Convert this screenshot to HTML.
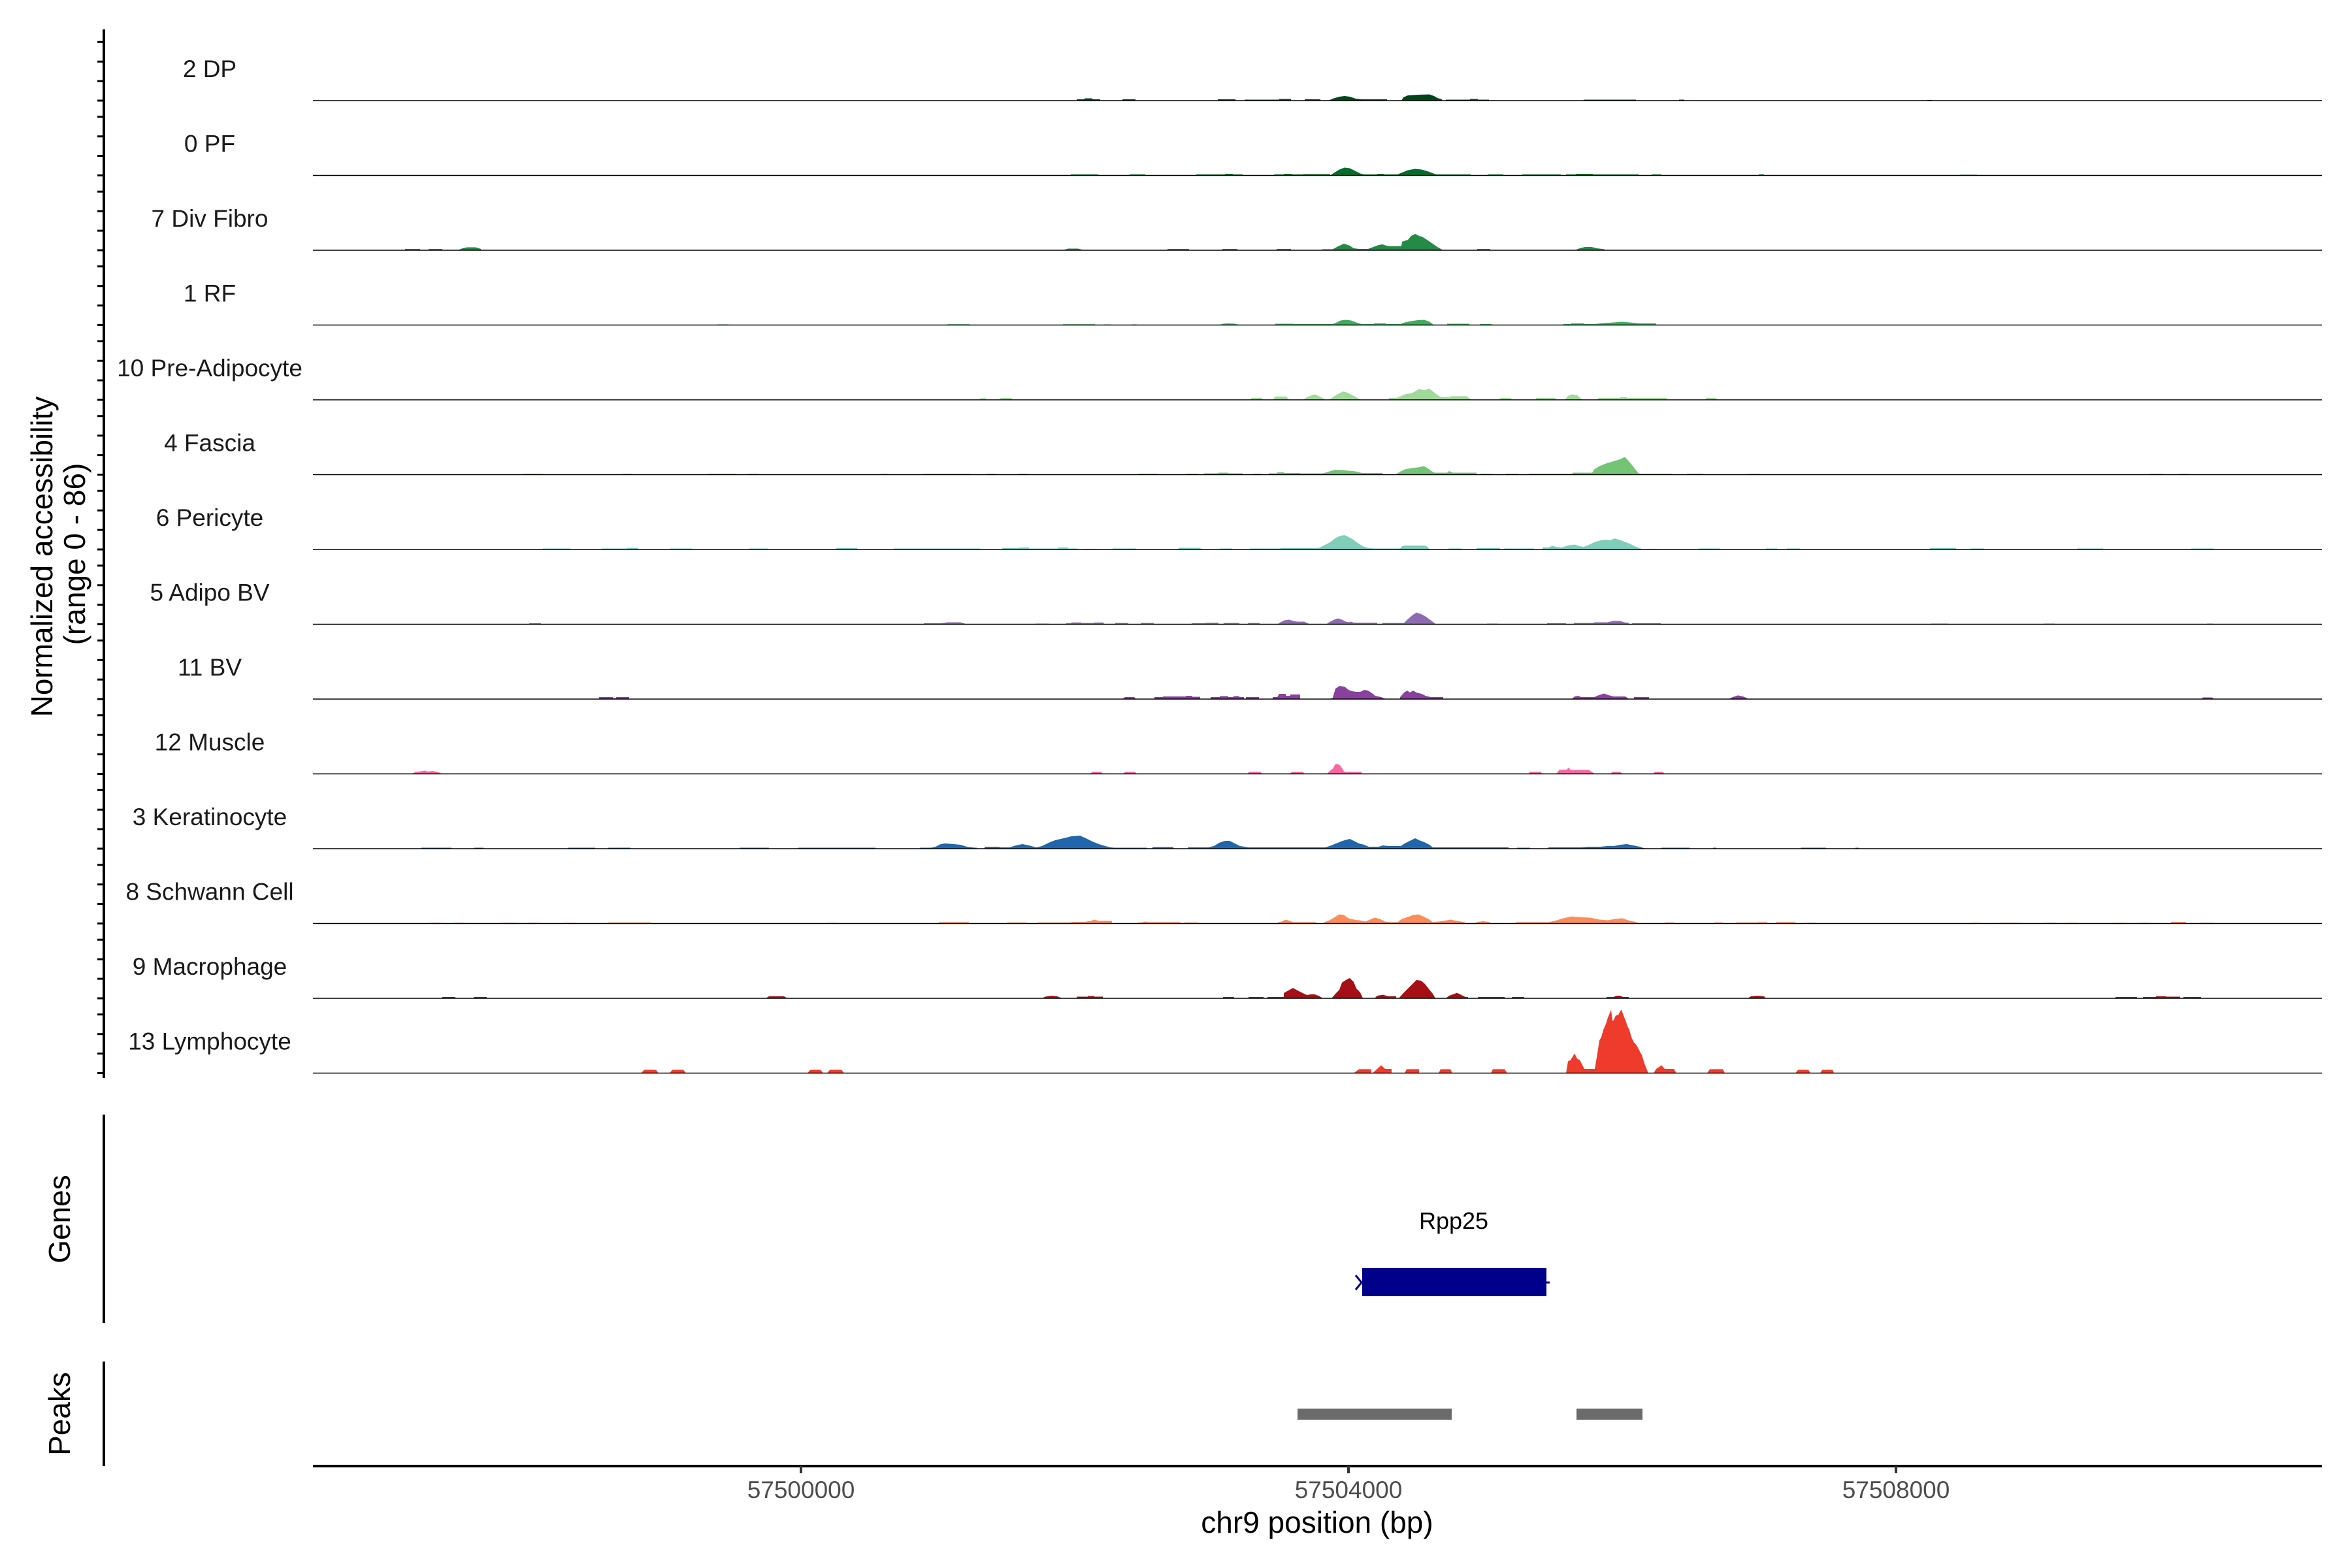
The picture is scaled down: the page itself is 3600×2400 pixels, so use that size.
<!DOCTYPE html>
<html><head><meta charset="utf-8"><style>
html,body{margin:0;padding:0;background:#fff;}
svg{display:block;}
text{font-family:"Liberation Sans",Arial,sans-serif;}
</style></head><body>
<svg xmlns="http://www.w3.org/2000/svg" width="3600" height="2400" viewBox="0 0 3600 2400">
<rect width="3600" height="2400" fill="#fff"/>

<!-- Y axis title -->
<text transform="translate(80,852) rotate(-90)" text-anchor="middle" font-size="46" fill="#000">Normalized accessibility</text>
<text transform="translate(130,848) rotate(-90)" text-anchor="middle" font-size="46" fill="#000">(range 0 - 86)</text>

<!-- main y axis -->
<line x1="159" y1="45" x2="159" y2="1650" stroke="#000" stroke-width="4"/>
<g stroke="#000" stroke-width="3">
<path d="M149 154H159M149 124.1H159M149 94.2H159M149 64.3H159
M149 268.5H159M149 238.6H159M149 208.7H159M149 178.8H159
M149 383H159M149 353.1H159M149 323.2H159M149 293.3H159
M149 497.5H159M149 467.6H159M149 437.7H159M149 407.8H159
M149 612H159M149 582.1H159M149 552.2H159M149 522.3H159
M149 726.5H159M149 696.6H159M149 666.7H159M149 636.8H159
M149 841H159M149 811.1H159M149 781.2H159M149 751.3H159
M149 955.5H159M149 925.6H159M149 895.7H159M149 865.8H159
M149 1070H159M149 1040.1H159M149 1010.2H159M149 980.3H159
M149 1184.5H159M149 1154.6H159M149 1124.7H159M149 1094.8H159
M149 1299H159M149 1269.1H159M149 1239.2H159M149 1209.3H159
M149 1413.5H159M149 1383.6H159M149 1353.7H159M149 1323.8H159
M149 1528H159M149 1498.1H159M149 1468.2H159M149 1438.3H159
M149 1642.5H159M149 1612.6H159M149 1582.7H159M149 1552.8H159"/>
</g>

<!-- track labels -->
<g font-size="37" fill="#1a1a1a" text-anchor="middle">
<text x="321" y="118">2 DP</text>
<text x="321" y="232.5">0 PF</text>
<text x="321" y="347">7 Div Fibro</text>
<text x="321" y="461.5">1 RF</text>
<text x="321" y="576">10 Pre-Adipocyte</text>
<text x="321" y="690.5">4 Fascia</text>
<text x="321" y="805">6 Pericyte</text>
<text x="321" y="919.5">5 Adipo BV</text>
<text x="321" y="1034">11 BV</text>
<text x="321" y="1148.5">12 Muscle</text>
<text x="321" y="1263">3 Keratinocyte</text>
<text x="321" y="1377.5">8 Schwann Cell</text>
<text x="321" y="1492">9 Macrophage</text>
<text x="321" y="1606.5">13 Lymphocyte</text>
</g>

<!-- Track 0: 2 DP -->
<g transform="translate(0,154)" fill="#00441B">
<path d="M1648 0V-2H1660V-3.5H1672V-2H1684V0Z M1718 0V-2H1738V0Z M1864 0V-2H1891V0Z M1905 0V-1.5H1958V-2.5H1976V0Z M1997 0V-2H2021V0Z
M2033 0L2040 -3L2050 -6L2058 -7L2066 -6L2075 -3L2085 -2H2123V0Z
M2145 0L2148 -5L2155 -8L2170 -9L2188 -9.5L2195 -7L2200 -4L2207 -2V0Z
M2213 0V-1.5H2250V-2.5H2262V-1.5H2279V0Z M2424 0V-1.5H2504V0Z M2570 0V-1.5H2578V0Z M2950 0V-1H2957V0Z"/>
</g>

<!-- Track 1: 0 PF -->
<g transform="translate(0,268.5)" fill="#006D2C">
<path d="M1639 0V-1.5H1681V0Z M1729 0V-1.5H1753V0Z M1831 0V-1.5H1875V-2.5H1887V-1.5H1902V0Z
M1950 0V-1.5H1965V-2.5H1978V-1.5H1995V-2H2036V0Z
M2036 0L2042 -4L2050 -9L2058 -12L2066 -11L2074 -7L2082 -3L2088 -1.5H2108V-2.5H2118V-1.5H2139L2145 -4L2155 -8L2166 -10L2176 -9L2186 -6L2194 -3L2199 -1.5H2251V0Z
M2277 0V-1.5H2301V0Z M2330 0V-1.5H2389V0Z M2397 0V-1.5H2412V-2.5H2438V-1.5H2508V0Z M2528 0V-1.5H2543V0Z M2692 0V-1.5H2700V0Z M3000 0V-1H3026V0Z"/>
</g>

<!-- Track 2: 7 Div Fibro -->
<g transform="translate(0,383)" fill="#238B45">
<path d="M620 0V-2H643V0Z M656 0V-2H677V0Z M701 0L708 -3L715 -4.5H728L736 -2V0Z
M1627 0L1635 -2.5H1650L1659 0Z M1787 0V-2H1820V0Z M1871 0V-2H1894V0Z M1954 0V-2H1976V0Z
M2024 0V-1.5H2040L2048 -6L2057 -10L2066 -7L2072 -3L2080 -2H2094L2102 -5L2110 -8L2116 -9L2122 -7L2127 -6H2145L2146 -13L2155 -16L2160 -22L2166 -25L2172 -22L2178 -20L2190 -12L2200 -5L2209 0Z
M2261 0V-2H2281V0Z M2410 0L2418 -3L2426 -5L2436 -5L2444 -3L2456 -1.5V0Z"/>
</g>

<!-- Track 3: 1 RF -->
<g transform="translate(0,497.5)" fill="#41AB5D">
<path d="M1098 0V-1H1115V0Z M1450 0V-1.3H1484V0Z M1627 0V-1.3H1676V0Z M1690 0V-1H1700V0Z M1733 0V-1H1740V0Z
M1866 0L1872 -2L1880 -2.5L1890 -2L1898 0Z
M1952 0V-2H1980V-1.5H2040L2046 -4L2052 -7L2060 -8L2068 -7L2076 -4L2084 -1.5H2103V-2.5H2121V-1.5H2143L2150 -4L2160 -6L2170 -7.5L2180 -8L2188 -5L2193 -1.5V0Z
M2215 0V-2H2249V0Z M2265 0V-1.5H2283V0Z
M2393 0V-1.5H2405V-2.5H2425V-1.5H2440L2455 -3L2470 -4L2482 -5L2495 -4L2510 -2.5H2535V0Z"/>
</g>

<!-- Track 4: 10 Pre-Adipocyte -->
<g transform="translate(0,612)" fill="#A1D99B">
<path d="M1500 0V-2.5H1509V0Z M1529 0L1532 -3H1548L1550 0Z M1913 0L1916 -3H1931L1934 0Z M1948 0L1952 -5H1969L1973 0Z
M1994 0L2000 -4L2008 -7L2012 -8.5L2018 -6L2024 -3L2029 0Z
M2034 0L2040 -4L2048 -9L2056 -13L2062 -11L2070 -7L2078 -3L2083 0Z
M2126 0V-3H2138L2145 -6L2152 -9L2160 -10L2166 -13L2173 -17L2177 -15L2182 -15L2187 -17.5L2192 -14L2198 -9L2204 -5L2208 -4H2220V-5.5H2245L2252 0Z
M2294 0L2297 -3H2312L2315 0Z M2351 0V-3H2381V0Z M2395 0L2400 -6L2407 -8.5L2414 -7L2422 0Z
M2446 0V-3H2480V-4H2490V-3H2551V0Z M2609 0L2612 -3H2626L2629 0Z"/>
</g>

<!-- Track 5: 4 Fascia -->
<g transform="translate(0,726.5)" fill="#74C476">
<path d="M801 0V-1.3H831V0Z M953 0V-1.3H967V0Z M1084 0V-1.3H1126V0Z M1144 0V-1.3H1161V0Z M1348 0V-1.3H1360V0Z M1413 0V-1.3H1485V0Z
M1511 0V-1.4H1525V0Z M1559 0V-1.4H1574V0Z M1742 0V-1.5H1773V0Z M1816 0V-1.5H1834V0Z M1843 0V-2H1865V-3H1880V-2H1902V0Z M1918 0V-1.5H1930V0Z
M1942 0V-2H1955V-3.5H1965V-2.5H1990V-2H2025L2035 -5L2043 -7.5L2055 -7L2065 -6L2075 -5L2085 -2.5H2116V0Z
M2136 0L2142 -4L2150 -8L2160 -10L2170 -11L2179 -13L2185 -10L2190 -6L2196 -3H2215L2218 -5.5L2224 -3H2260V0Z
M2266 0V-1.5H2283V0Z M2305 0V-1.5H2324V0Z
M2340 0V-1.5H2407V-3H2437L2440 -8L2448 -13L2458 -17L2468 -20L2478 -23L2487 -27L2492 -22L2500 -12L2508 -2L2510 -1.5H2559V0Z
M2582 0V-1.5H2607V0Z M2675 0V-1.3H2694V0Z M3291 0V-1.3H3311V0Z M3335 0V-1.3H3350V0Z"/>
</g>

<!-- Track 6: 6 Pericyte -->
<g transform="translate(0,841)" fill="#7FCDBB">
<path d="M831 0V-1.5H873V0Z M921 0V-1.5H960V-2.5H977V0Z M1026 0V-1.5H1059V0Z M1147 0V-1.5H1175V0Z M1280 0V-2H1312V0Z M1368 0V-1.5H1500V0Z
M1534 0V-2H1560V-3H1575V-1.5H1620V-3H1635V-1.5H1649V0Z M1659 0V-1H1680V0Z M1703 0V-1.5H1739V0Z M1801 0L1806 -2.5H1835L1842 0Z M1867 0V-1.5H1886V0Z
M1913 0V-1.5H1960V-2H2016L2020 -3L2028 -7L2036 -11L2045 -18L2052 -21L2058 -22L2064 -19L2070 -16L2078 -10L2086 -5L2095 -2L2104 -1.5H2143L2146 -5L2150 -6H2182L2189 0Z
M2217 0V-1.5H2237V0Z M2260 0V-2H2296V0Z M2302 0V-1.5H2348V0Z
M2361 0V-3H2370L2376 -5.5L2382 -4L2390 -3L2400 -6L2410 -7.5L2418 -5L2424 -4L2432 -7L2440 -11L2450 -14L2458 -15L2465 -14L2471 -17L2478 -15L2486 -12L2494 -9L2502 -5L2510 -2L2514 0Z
M2521 0V-1H2537V0Z M2600 0V-1.5H2633V0Z M2703 0V-1.5H2720V0Z M2735 0V-1.5H2755V0Z M2954 0V-2H2994V0Z M3016 0V-1.5H3037V0Z M3179 0V-1.5H3219V0Z M3354 0V-1.5H3388V0Z"/>
</g>

<!-- Track 7: 5 Adipo BV -->
<g transform="translate(0,955.5)" fill="#8C6BB1">
<path d="M810 0V-1.5H828V0Z M1414 0V-1.5H1440L1450 -3H1470L1480 0Z
M1585 0V-1H1605V0Z M1632 0V-1.5H1640V-2.8H1655V-2H1675V-2.8H1688L1691 0Z M1707 0V-2H1727V0Z M1746 0V-2H1766V0Z M1824 0V-1.5H1845V-2.2H1865V0Z M1873 0V-2H1897V0Z M1910 0V-2H1928V0Z
M1955 0L1960 -3L1966 -6L1973 -7L1980 -5L1986 -4H1996L2005 0Z
M2030 0L2036 -4L2042 -7L2048 -9L2054 -7L2060 -4L2065 -3L2068 -4L2072 -2.5H2108V0Z
M2116 0V-2H2149L2155 -8L2162 -14L2168 -18L2174 -16L2182 -12L2190 -6L2198 0Z
M2276 0V-1H2293V0Z M2368 0V-1.5H2397V0Z M2409 0V-2H2440V-3H2460L2470 -5.3L2480 -5L2486 -3L2493 -2V0Z M2498 0V-1.5H2542V0Z
M2955 0V-1H2981V0Z M3128 0V-1H3145V0Z M3378 0V-1H3388V0Z"/>
</g>

<!-- Track 8: 11 BV -->
<g transform="translate(0,1070)" fill="#88419D">
<path d="M917 0V-3H938V-1.5H943V-3H963V0Z
M1718 0L1722 -3H1736L1739 0Z M1767 0V-3H1780V-4H1815V-5H1825V-3.5H1837V0Z M1853 0V-3H1867V-4.5H1880V-3H1888V-4.5H1897V-3H1904V0Z M1907 0V-3H1927V0Z
M1948 0V-3H1955L1958 -8H1968V-5H1975V-7H1990V0Z
M2035 0L2040 -2L2044 -16L2050 -20L2058 -19L2064 -14L2070 -12L2076 -11L2082 -11L2088 -14L2094 -13L2100 -9L2105 -5L2114 -3L2122 0Z
M2143 0V-3L2149 -10L2154 -13L2158 -10L2163 -13L2168 -10L2176 -8L2182 -5L2190 -3H2209V0Z
M2406 0L2410 -4L2416 -5L2420 -3H2440L2446 -5.5L2455 -8.5L2462 -6L2470 -4H2488L2493 0Z
M2501 0V-3H2524V0Z M2646 0L2652 -3L2660 -5.6L2668 -4L2677 0Z M3369 0L3372 -2.5H3386L3389 0Z"/>
</g>

<!-- Track 9: 12 Muscle -->
<g transform="translate(0,1184.5)" fill="#F768A1">
<path d="M630 0L636 -3L645 -4L650 -5L655 -3.5L662 -4.5L670 -3L677 0Z
M1668 0L1672 -3H1685L1688 0Z M1719 0L1722 -3H1737L1740 0Z M1909 0L1912 -3H1929L1932 0Z M1974 0L1977 -3H1994L1997 0Z
M2031 0L2036 -5L2040 -8L2044 -15L2048 -15L2052 -12L2057 -4L2060 -3H2084V0Z
M2339 0L2342 -3H2358L2361 0Z M2382 0L2387 -6.5H2398L2401 -9.6L2404 -6H2432L2441 0Z M2465 0L2468 -3H2480L2483 0Z M2530 0L2533 -3H2545L2548 0Z"/>
</g>

<!-- Track 10: 3 Keratinocyte -->
<g transform="translate(0,1299)" fill="#2166AC">
<path d="M645 0V-1.5H691V0Z M726 0V-1.5H740V0Z M869 0V-1.5H911V0Z M931 0V-1.5H965V0Z M1132 0V-1.5H1177V0Z M1222 0V-1.5H1340V0Z
M1408 0V-1.5H1425L1432 -3L1440 -7L1447 -8L1460 -7L1470 -6L1480 -3L1492 -1.5H1495V0Z
M1507 0V-3H1530V-2H1545L1555 -5L1565 -7L1575 -5L1586 -2L1595 -4L1605 -9L1615 -13L1628 -16L1640 -19L1653 -20L1662 -16L1672 -11L1682 -7L1692 -4L1700 -2L1706 -1.5H1755V0Z
M1764 0V-2.5H1796V0Z
M1818 0V-2H1849L1858 -4L1866 -9L1875 -12L1882 -12L1890 -8L1898 -4L1905 -3L1912 -2H2028L2035 -4L2045 -8L2055 -12L2066 -15L2072 -12L2080 -8L2088 -6L2095 -3H2110L2117 -5L2125 -4H2144L2150 -8L2158 -12L2166 -16L2172 -13L2180 -10L2188 -6L2193 -2H2309V0Z
M2322 0V-1.5H2342V0Z M2370 0V-2H2420L2430 -3L2450 -3L2460 -4L2470 -4L2480 -6L2490 -7L2500 -5L2510 -3L2519 0Z
M2543 0V-1.5H2586V0Z M2622 0V-1.5H2627V0Z M2757 0V-1.5H2795V0Z M2840 0V-1.5H2845V0Z"/>
</g>

<!-- Track 11: 8 Schwann Cell -->
<g transform="translate(0,1413.5)" fill="#FC8D59">
<path d="M656 0V-1H677V0Z M695 0V-1H712V0Z M767 0V-1H793V0Z M807 0V-1H826V0Z M863 0V-1H880V0Z M930 0V-1.5H996V0Z M1266 0V-1H1282V0Z M1437 0V-2H1483V0Z
M1541 0V-1.5H1571V0Z M1589 0V-1.5H1640V-2.5H1660L1670 -4L1675 -6L1682 -4H1702V0Z M1742 0V-1.5H1748L1752 -3L1758 -2H1807V0Z M1813 0V-1.5H1834V0Z
M1956 0V-1.5L1962 -3L1968 -6L1974 -4L1980 -2H2014V0Z
M2026 0V-1.5L2035 -5L2042 -9L2050 -14L2057 -13L2064 -8L2072 -6L2080 -5L2090 -3L2097 -6L2104 -9L2112 -7L2120 -3L2130 -2L2139 -2L2146 -7L2155 -10L2163 -13L2171 -14L2180 -10L2188 -6L2193 -2L2210 -4L2220 -6L2230 -4L2242 -2V0Z
M2257 0L2262 -2.5L2270 -3.5L2278 -2.5L2284 0Z
M2320 0V-2H2370L2380 -4L2389 -7L2405 -10.7L2420 -9.5L2434 -9L2448 -6L2461 -5L2472 -7L2483 -8L2495 -4L2501 -3L2510 0Z
M2548 0V-1.5H2562V0Z M2624 0V-1.5H2637V0Z M2657 0V-1.5H2690V-2H2705V0Z M2718 0V-2H2748V0Z M2761 0V-1H2780V0Z
M3016 0V-1H3032V0Z M3060 0V-1H3094V0Z M3128 0V-1H3148V0Z M3163 0V-1H3180V0Z M3235 0V-1H3254V0Z M3273 0V-1H3291V0Z M3323 0V-2.5H3346V0Z M3368 0V-1H3389V0Z"/>
</g>

<!-- Track 12: 9 Macrophage -->
<g transform="translate(0,1528)" fill="#A50F15">
<path d="M677 0V-2H697V0Z M725 0V-2H745V0Z M1172 0L1177 -3H1200L1205 0Z
M1595 0L1600 -2.5L1610 -4L1618 -3L1626 0Z M1648 0V-2.5H1665V-3.5H1675V-2.5H1688V0Z
M1872 0V-2H1889V0Z M1911 0V-2H1934V0Z
M1940 0V-2H1965V-8L1972 -12L1979 -15.7L1986 -12L1992 -9L1998 -6L2001 -5L2006 -6H2012L2018 -4L2025 0Z
M2038 0L2045 -8L2050 -13L2054 -24L2060 -28L2066 -31L2072 -25L2076 -15L2082 -9L2086 0Z
M2104 0L2108 -4L2117 -5.4L2125 -3H2137V0Z
M2141 0L2148 -8L2155 -15L2162 -22L2168 -28L2175 -27L2181 -22L2188 -13L2193 -7L2197 0Z
M2213 0L2218 -4L2224 -6L2230 -8.4L2237 -5L2243 -2H2247V0Z
M2262 0V-2H2303V0Z M2314 0V-2H2333V0Z M2459 0V-2H2470L2474 -4H2480L2484 -2H2493V0Z
M2675 0L2680 -3L2690 -4L2700 -3L2703 0Z M3238 0V-2H3271V0Z M3280 0V-2H3300V-3H3315V-2.5H3337V0Z M3342 0V-2H3369V0Z"/>
</g>

<!-- Track 13: 13 Lymphocyte -->
<g transform="translate(0,1642.5)" fill="#EF3B2C">
<path d="M981 0L986 -5H1004L1008 0Z M1025 0L1029 -5H1046L1050 0Z M1236 0L1240 -5H1256L1260 0Z M1266 0L1270 -5H1288L1292 0Z
M2072 0L2080 -6H2099V0Z M2101 0L2108 -6.5L2114 -12L2120 -6.5L2130 -6.5V0Z M2150 0L2153 -6H2172V0Z M2202 0L2205 -6H2220L2223 0Z M2282 0L2285 -6H2303L2307 0Z
M2397 0L2400 -18L2404 -20L2410 -30L2414 -22L2418 -20L2425 -6.5H2441L2445 -30L2448 -50L2451 -55L2454 -66L2458 -75L2461 -85L2464 -92L2466 -97L2468 -80L2470 -81L2473 -88L2477 -89L2480 -95L2482 -97L2485 -88L2488 -81L2491 -72L2494 -66L2497 -55L2501 -47L2504 -44L2507 -39L2510 -33L2513 -27.5L2516 -18L2518 -12L2523 0Z
M2531 0L2535 -6.5L2543 -12L2548 -6.5H2562L2566 0Z M2613 0L2617 -6H2637L2640 0Z M2748 0L2752 -5H2768L2771 0Z M2786 0L2789 -5H2805L2807 0Z"/>
</g>

<!-- baselines -->
<g stroke="#000" stroke-width="1.6">
<path d="M479 154H3554M479 268.5H3554M479 383H3554M479 497.5H3554M479 612H3554M479 726.5H3554M479 841H3554M479 955.5H3554M479 1070H3554M479 1184.5H3554M479 1299H3554M479 1413.5H3554M479 1528H3554M479 1642.5H3554"/>
</g>

<!-- Genes panel -->
<text transform="translate(107,1866) rotate(-90)" text-anchor="middle" font-size="46" fill="#000">Genes</text>
<line x1="159" y1="1706" x2="159" y2="2025" stroke="#000" stroke-width="4"/>
<text x="2225" y="1881" text-anchor="middle" font-size="36" fill="#000">Rpp25</text>
<rect x="2085" y="1941" width="282" height="43" fill="#00008B"/>
<polyline points="2075,1952 2084,1963 2075,1974" fill="none" stroke="#00008B" stroke-width="3"/>
<line x1="2366" y1="1963" x2="2372" y2="1963" stroke="#00008B" stroke-width="3"/>

<!-- Peaks panel -->
<text transform="translate(107,2164) rotate(-90)" text-anchor="middle" font-size="46" fill="#000">Peaks</text>
<line x1="159" y1="2084" x2="159" y2="2244" stroke="#000" stroke-width="4"/>
<rect x="1986" y="2156" width="236" height="17" fill="#6B6B6B"/>
<rect x="2413" y="2156" width="101" height="17" fill="#6B6B6B"/>

<!-- X axis -->
<line x1="479" y1="2244" x2="3554" y2="2244" stroke="#000" stroke-width="4"/>
<g stroke="#333" stroke-width="4">
<line x1="1226" y1="2244" x2="1226" y2="2255"/>
<line x1="2064" y1="2244" x2="2064" y2="2255"/>
<line x1="2902" y1="2244" x2="2902" y2="2255"/>
</g>
<g font-size="37" fill="#4D4D4D" text-anchor="middle">
<text x="1226" y="2293">57500000</text>
<text x="2064" y="2293">57504000</text>
<text x="2902" y="2293">57508000</text>
</g>
<text x="2016" y="2346" text-anchor="middle" font-size="46" fill="#000">chr9 position (bp)</text>
</svg>
</body></html>
